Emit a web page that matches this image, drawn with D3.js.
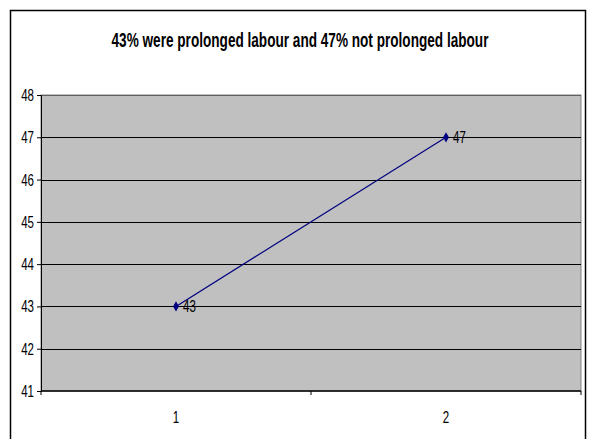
<!DOCTYPE html>
<html>
<head>
<meta charset="utf-8">
<script src="https://cdn.jsdelivr.net/npm/d3@7"></script>
<style>
  body { margin: 0; background: #fff; }
  text { font-family: "Liberation Sans", Arial, sans-serif; fill: #000; }
</style>
</head>
<body>
<div id="chart"></div>
<script>
// chart data
const categories = ['1', '2'];
const values = [43, 47];
const yTicks = [41, 42, 43, 44, 45, 46, 47, 48];
const title = '43% were prolonged labour and 47% not prolonged labour';

const width = 589;
const height = 439;
const plot = {left: 41, right: 581, top: 95, bottom: 391};
// the original text is drawn narrow, squeeze it horizontally
const squeeze = 0.72;

const svg = d3.select('#chart').append('svg')
    .attr('width', width)
    .attr('height', height);

svg.append('rect')
    .attr('width', width)
    .attr('height', height)
    .attr('fill', '#fff');

/**
 * Add a horizontally condensed text at x, y
 */
function addText(parent, tx, ty, str, size, anchor) {
    return parent.append('text')
        .attr('transform', `translate(${tx},${ty}) scale(${squeeze},1)`)
        .attr('text-anchor', anchor || 'start')
        .style('font-size', size + 'px')
        .text(str);
}

// outer frame
svg.append('rect')
    .attr('x', 10.5)
    .attr('y', 10.5)
    .attr('width', 575)
    .attr('height', 450)
    .attr('fill', 'none')
    .attr('stroke', '#000')
    .attr('stroke-width', 1.5);

addText(svg, 300, 47, title, 20, 'middle')
    .style('font-weight', 'bold')
    .attr('transform', 'translate(300,47) scale(0.68,1)');

const x = d3.scaleBand()
    .domain(categories)
    .range([plot.left, plot.right])
    .padding(0);

const y = d3.scaleLinear()
    .domain([41, 48])
    .range([plot.bottom, plot.top]);

// grey plot area
svg.append('rect')
    .attr('x', plot.left)
    .attr('y', plot.top)
    .attr('width', plot.right - plot.left)
    .attr('height', plot.bottom - plot.top)
    .attr('fill', '#c0c0c0')
    .attr('stroke', '#808080');

// gridlines
svg.append('g')
    .selectAll('line')
    .data(yTicks.slice(1))
    .join('line')
    .attr('x1', plot.left)
    .attr('x2', plot.right)
    .attr('y1', d => Math.round(y(d)) + 0.5)
    .attr('y2', d => Math.round(y(d)) + 0.5)
    .attr('stroke', d => d === 48 ? '#606060' : '#000')
    .attr('stroke-width', 1);

// y axis
const yAxis = svg.append('g')
    .attr('transform', `translate(${plot.left},0)`)
    .call(d3.axisLeft(y).tickValues(yTicks).tickSize(4).tickFormat(d3.format('d')));
yAxis.selectAll('text').remove();
yAxis.selectAll('line, path').attr('stroke', '#000');
yTicks.forEach(t => addText(svg, 34, y(t) + 6, t, 16, 'end'));

// x axis, ticks sit between categories
const xAxis = svg.append('g')
    .attr('transform', `translate(0,${plot.bottom})`);
xAxis.append('line')
    .attr('x1', plot.left)
    .attr('x2', plot.right)
    .attr('stroke', '#000')
    .attr('stroke-width', 1.5);
xAxis.selectAll('.tick-mark')
    .data([plot.left, x('2'), plot.right])
    .join('line')
    .attr('class', 'tick-mark')
    .attr('x1', d => d)
    .attr('x2', d => d)
    .attr('y1', 0)
    .attr('y2', 4)
    .attr('stroke', '#000');
categories.forEach(c => addText(svg, x(c) + x.bandwidth() / 2, plot.bottom + 32, c, 16, 'middle'));

// series
const points = categories.map((c, i) => ({cat: c, value: values[i]}));
const line = d3.line()
    .x(d => x(d.cat) + x.bandwidth() / 2)
    .y(d => y(d.value));

svg.append('path')
    .datum(points)
    .attr('d', line)
    .attr('fill', 'none')
    .attr('stroke', '#000080')
    .attr('stroke-width', 1.2);

svg.selectAll('.marker')
    .data(points)
    .join('path')
    .attr('class', 'marker')
    .attr('transform', d => `translate(${x(d.cat) + x.bandwidth() / 2},${y(d.value)})`)
    .attr('d', d3.symbol().type(d3.symbolDiamond).size(30))
    .attr('fill', '#000080');

points.forEach(d => addText(svg, x(d.cat) + x.bandwidth() / 2 + 7, y(d.value) + 6, d.value, 16, 'start')
    .attr('fill', '#222'));
</script>
</body>
</html>
